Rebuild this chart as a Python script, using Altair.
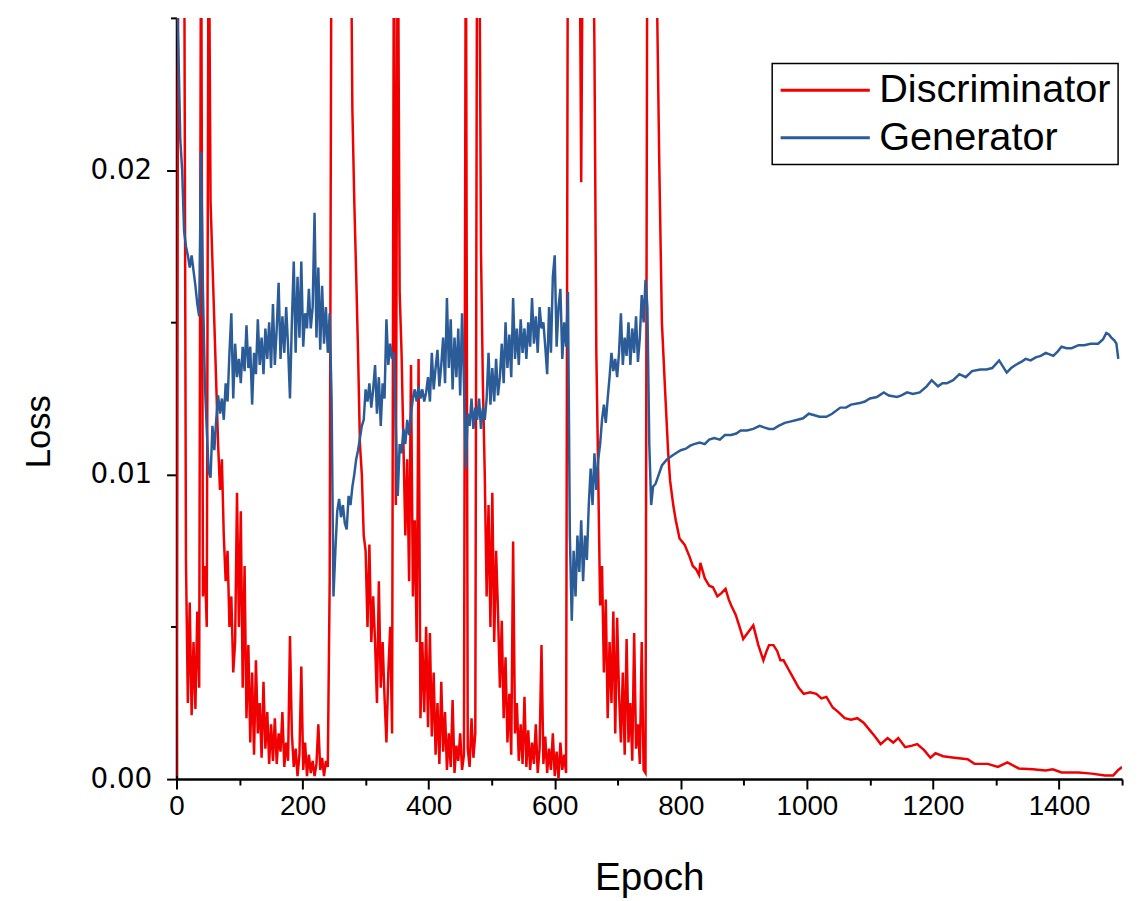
import altair as alt
import pandas as pd

# ---------------- data (loss values in units of 1e-3) ----------------
series_names = ["Discriminator", "Generator"]
series_colors = ["#f00000", "#2b5c97"]

# noisy phase: one reading every 3 epochs from epoch 0 to 756
noisy_epochs = list(range(0, 757, 3))

disc_noisy = [
    0.1, 30, 30, 30, 30, 7.2, 2.5, 5.8, 2.1, 4.5, 2.3, 5.5, 3.0, 30, 6.0, 7.0, 5.0, 30, 19, 17,
    15, 13, 11, 9.5, 10.5, 8, 6.5, 7.5, 5, 6, 3.5, 4.5, 9.4, 5, 8.8, 3, 7, 2, 4.4, 1.2,
    3.5, 0.8, 3.9, 1.5, 2.5, 0.7, 3.2, 1.0, 2.2, 0.5, 1.8, 0.6, 2.0, 0.5, 1.5, 0.9, 2.2, 0.4, 1.2, 0.6,
    4.7, 1.5, 0.4, 1.0, 0.1, 0.8, 3.7, 0.3, 1.2, 0.1, 0.8, 0.2, 0.6, 0.1, 0.5, 1.8, 0.3, 0.7, 0.1, 0.6,
    0.4, 6.5, 30, 30, 30, 30, 30, 30, 30, 30, 30, 30, 30, 22, 19, 16.6, 14, 11, 10, 8,
    7.5, 5, 7.7, 4.5, 6, 4.5, 2.5, 6.5, 3, 4.5, 2.7, 1.2, 3.5, 5, 1.5, 30, 9, 30, 16, 14,
    11, 8, 10.5, 6.5, 13.6, 6, 8.5, 4.5, 13.8, 2, 4.5, 2.2, 5, 1.7, 4.8, 1.4, 3.5, 0.8, 2.5, 0.5,
    3.2, 0.9, 2.2, 0.3, 1.5, 0.4, 2.6, 0.2, 1.1, 0.6, 1.5, 0.3, 0.8, 30, 1.0, 0.4, 2.0, 0.7, 1.5, 30,
    30, 17.4, 13, 10, 6, 9, 5, 9.4, 4.5, 7.5, 5.5, 3, 5.2, 2, 4, 1.2, 2.8, 0.8, 7.8, 1.5,
    2.5, 0.6, 1.8, 0.5, 2.7, 0.4, 1.6, 0.3, 1.2, 0.5, 1.8, 0.2, 1.0, 4.4, 0.5, 1.4, 0.2, 1.0, 0.3, 1.5,
    0.1, 0.9, 0.0, 1.2, 0.3, 0.8, 0.2, 30, 30, 30, 30, 30, 30, 30, 19.6, 30, 30, 30, 30, 30,
    30, 24, 14, 10, 5.7, 7, 3.5, 5.9, 2.0, 4.5, 2.5, 5.5, 1.5, 5.3, 2.8, 1.2, 3.5, 0.8, 4.6, 1.2,
    2.5, 0.6, 4.8, 1.0, 1.8, 0.5, 4.5, 0.3, 0.2, 30, 30, 30, 30,
]

gen_noisy = [
    26, 24, 21, 20, 18, 17.5, 17.2, 16.8, 17.2, 16.7, 16.2, 15.6, 15.2, 20.6, 16, 13, 11.5, 10.1, 9.9, 11.6,
    10.8, 11.8, 12.6, 12.0, 12.5, 11.8, 13, 12.4, 14, 15.3, 12.5, 14.3, 13.2, 13.8, 13.0, 14.2, 13.4, 14.9, 13.5, 14.2,
    12.3, 14.0, 13.3, 15.1, 13.6, 14.5, 13.3, 14.8, 13.8, 15.0, 13.5, 15.6, 13.6, 14.8, 16.3, 13.8, 15.2, 14.0, 15.5, 14.2,
    12.5, 15.0, 17.0, 14.0, 16.5, 14.5, 17.0, 14.2, 15.3, 14.8, 16.1, 14.8, 15.5, 18.6, 14.5, 16.8, 14.1, 16.2, 14.3, 15.5,
    14.0, 15.3, 12.5, 6.0, 7.5, 8.8, 9.2, 8.6, 9.0, 8.4, 8.2, 9.3, 9.0, 9.6, 10.0, 10.5, 10.8, 11.2, 11.6, 11.8,
    12.8, 12.4, 13.0, 12.2, 12.8, 13.6, 12.0, 13.2, 11.6, 13.0, 12.5, 15.1, 13.6, 14.3, 13.8, 14.0, 11.5, 9.3, 11.0, 10.7,
    11.5, 11.0, 11.8, 11.3, 12.0, 12.5, 12.8, 12.4, 12.9, 12.5, 12.8, 12.4, 12.7, 13.2, 12.4, 14.0, 12.8, 13.5, 14.1, 12.9,
    13.6, 14.5, 13.0, 15.8, 13.5, 15.1, 12.8, 14.5, 13.2, 14.8, 12.6, 15.3, 13.0, 10.2, 12.0, 11.6, 12.5, 11.5, 12.2, 11.8,
    12.5, 11.5, 12.2, 11.8, 12.5, 14.0, 12.3, 13.5, 12.4, 13.8, 12.6, 13.2, 14.3, 13.0, 15.0, 13.5, 14.6, 13.2, 15.8, 13.8,
    14.8, 13.6, 15.1, 14.0, 14.8, 13.8, 15.0, 14.2, 15.8, 14.3, 15.2, 14.0, 15.5, 14.8, 15.0, 14.2, 13.3, 15.5, 14.0, 16.5,
    17.2, 14.2, 15.5, 16.1, 13.8, 15.0, 14.2, 16.0, 8.0, 5.2, 7.5, 6.0, 8.0, 6.8, 8.5, 6.5, 8.0, 7.2, 9.0, 10.2,
    9.0, 10.7, 9.5, 10.5, 11.0, 11.8, 12.3, 11.7, 12.5, 13.2, 14.0, 13.4, 13.8, 13.2, 14.0, 15.3, 13.6, 14.5, 13.9, 15.0,
    13.6, 14.8, 14.0, 15.2, 13.7, 14.5, 15.9, 15.0, 16.4, 15.5, 11.0, 9.0, 9.6,
]

# smooth phase
disc_tail_epochs = [
    759, 762, 766, 770, 775, 780, 783, 788, 792, 798,
    806, 814, 819, 824, 829, 831, 838, 845, 851, 858,
    864, 871, 876, 880, 887, 894, 899, 906, 915, 923,
    931, 936, 940, 947, 953, 958, 963, 971, 979, 987,
    995, 1005, 1015, 1023, 1031, 1041, 1050, 1060, 1070, 1080,
    1090, 1100, 1108, 1117, 1128, 1137, 1145, 1156, 1167, 1175,
    1186, 1196, 1204, 1216, 1234, 1255, 1266, 1287, 1303, 1318,
    1336, 1358, 1379, 1390, 1404, 1431, 1452, 1473, 1486, 1494, 1500,
]
disc_tail = [
    30, 26, 20, 15, 12.8, 10.7, 9.8, 9.0, 8.5, 7.9,
    7.7, 7.3, 7.0, 6.9, 6.7, 7.1, 6.6, 6.35, 6.3, 6.0,
    6.1, 6.25, 5.9, 5.7, 5.4, 4.95, 4.6, 4.8, 5.05, 4.4,
    3.9, 4.2, 4.4, 4.4, 4.2, 3.9, 3.9, 3.6, 3.3, 3.0,
    2.8, 2.85, 2.8, 2.65, 2.7, 2.35, 2.2, 2.0, 1.95, 2.0,
    1.85, 1.6, 1.4, 1.15, 1.35, 1.2, 1.35, 1.05, 1.1, 1.15,
    0.95, 0.7, 0.85, 0.75, 0.7, 0.65, 0.5, 0.5, 0.4, 0.55,
    0.35, 0.32, 0.28, 0.32, 0.22, 0.22, 0.18, 0.12, 0.12, 0.3, 0.4,
]

gen_tail_epochs = [
    760, 765, 770, 778, 785, 792, 800, 808, 815, 821,
    830, 838, 845, 853, 862, 870, 880, 888, 895, 905,
    915, 925, 932, 940, 947, 955, 965, 975, 985, 994,
    1003, 1012, 1020, 1031, 1040, 1053, 1062, 1070, 1084, 1092,
    1100, 1111, 1122, 1130, 1143, 1150, 1159, 1168, 1179, 1190,
    1198, 1208, 1215, 1222, 1232, 1242, 1252, 1262, 1275, 1285,
    1294, 1305, 1317, 1324, 1331, 1340, 1347, 1355, 1363, 1371,
    1379, 1391, 1398, 1404, 1412, 1420, 1431, 1440, 1450, 1462,
    1470, 1475, 1479, 1483, 1488, 1491, 1494,
]
gen_tail = [
    9.7, 10.0, 10.3, 10.5, 10.6, 10.7, 10.8, 10.85, 10.95, 11.0,
    11.05, 11.0, 11.15, 11.2, 11.15, 11.3, 11.3, 11.35, 11.45, 11.45,
    11.5, 11.6, 11.55, 11.5, 11.5, 11.6, 11.7, 11.75, 11.8, 11.85,
    12.0, 11.95, 11.9, 11.9, 12.0, 12.2, 12.2, 12.3, 12.35, 12.4,
    12.5, 12.55, 12.7, 12.6, 12.55, 12.6, 12.7, 12.65, 12.7, 12.9,
    13.1, 12.9, 13.0, 13.0, 13.1, 13.3, 13.2, 13.4, 13.45, 13.45,
    13.5, 13.75, 13.35, 13.5, 13.6, 13.7, 13.8, 13.75, 13.85, 13.9,
    14.0, 13.9, 14.05, 14.2, 14.15, 14.15, 14.25, 14.25, 14.3, 14.3,
    14.45, 14.65, 14.6, 14.5, 14.4, 14.3, 13.8,
]

x_tick_values = list(range(0, 1501, 100))
y_tick_values = [0.0, 0.005, 0.01, 0.015, 0.02, 0.025]

assert len(disc_noisy) == len(noisy_epochs) == len(gen_noisy)
assert len(disc_tail) == len(disc_tail_epochs)
assert len(gen_tail) == len(gen_tail_epochs)

rows = []
for e, v in zip(noisy_epochs + disc_tail_epochs, disc_noisy + disc_tail):
    rows.append({"epoch": e, "loss": v / 1000.0, "series": series_names[0]})
for e, v in zip(noisy_epochs + gen_tail_epochs, gen_noisy + gen_tail):
    rows.append({"epoch": e, "loss": v / 1000.0, "series": series_names[1]})
df = pd.DataFrame(rows)

x_axis = alt.Axis(
    values=x_tick_values,
    labelExpr="datum.value % 200 === 0 ? datum.label : ''",
    format="d",
    grid=False,
    domainColor="black",
    domainWidth=2.5,
    tickColor="black",
    tickWidth=2,
    tickSize={"condition": {"test": "datum.value % 200 === 0", "value": 10}, "value": 6},
    labelFont="Liberation Sans",
    labelFontSize=28,
    labelColor="black",
    labelPadding=4,
    labelFlush=False,
    labelOverlap=False,
    title="Epoch",
    titleFont="Liberation Sans",
    titleFontSize=39,
    titleFontWeight="normal",
    titleColor="black",
    titleX=477,
    titleY=111,
    titleBaseline="alphabetic",
)

y_axis = alt.Axis(
    values=y_tick_values,
    labelExpr="round(datum.value * 1000) % 10 === 0 ? datum.label : ''",
    format=".2f",
    grid=False,
    domainColor="black",
    domainWidth=2.5,
    tickColor="black",
    tickWidth=2,
    tickSize={"condition": {"test": "round(datum.value * 1000) % 10 === 0", "value": 10}, "value": 6},
    labelFont="DejaVu Sans",
    labelFontSize=28,
    labelColor="black",
    labelPadding=15,
    labelFlush=False,
    labelOverlap=False,
    title="Loss",
    titleFont="Liberation Sans",
    titleFontSize=35,
    titleFontWeight="normal",
    titleColor="black",
    titleAngle=270,
    titleX=-128,
    titleY=417,
    titleBaseline="alphabetic",
)

legend = alt.Legend(
    title=None,
    orient="none",
    legendX=601,
    legendY=46,
    symbolType="stroke",
    symbolSize=8100,
    symbolStrokeWidth=3,
    clipHeight=40,
    labelFont="Liberation Sans",
    labelFontSize=40,
    labelColor="black",
    labelOffset=8,
    labelLimit=400,
    rowPadding=8,
    padding=7,
    strokeColor="black",
    fillColor="white",
)

chart = (
    alt.Chart(df)
    .mark_line(clip=True, strokeWidth=2.5)
    .encode(
        x=alt.X("epoch:Q", scale=alt.Scale(domain=[0, 1500], nice=False, zero=False), axis=x_axis),
        y=alt.Y("loss:Q", scale=alt.Scale(domain=[0, 0.025], nice=False), axis=y_axis),
        color=alt.Color(
            "series:N",
            scale=alt.Scale(domain=series_names, range=series_colors),
            legend=legend,
        ),
    )
    .properties(
        width=954,
        height=768,
        autosize=alt.AutoSizeParams(type="none"),
        padding={"left": 170, "top": 6, "right": 8, "bottom": 118},
        background="white",
    )
    .configure_view(strokeWidth=0)
    .configure_legend(strokeWidth=1.5)
)

chart.save("out.html", embed_options={"renderer": "svg", "actions": False})
